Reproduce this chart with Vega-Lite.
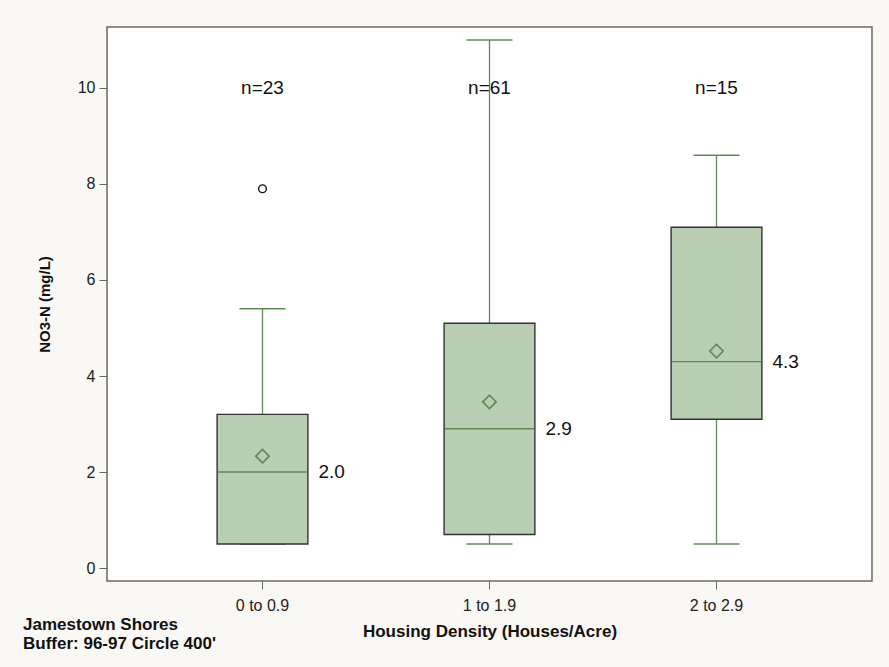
{
  "$schema": "https://vega.github.io/schema/vega-lite/v6.json",
  "width": 765,
  "height": 554,
  "autosize": "none",
  "padding": {"left": 107, "top": 27, "right": 17, "bottom": 86},
  "background": "#FAF8F4",
  "config": {
    "view": {"fill": "white", "stroke": "#6E6A62", "strokeWidth": 1.5},
    "font": "Liberation Sans"
  },
  "datasets": {
    "boxes": [
      {"grp": "0 to 0.9", "lo": 0.5, "q1": 0.5, "med": 2.0, "q3": 3.2, "hi": 5.4, "mean": 2.33, "n": "n=23", "medlab": "2.0"},
      {"grp": "1 to 1.9", "lo": 0.5, "q1": 0.7, "med": 2.9, "q3": 5.1, "hi": 11.0, "mean": 3.46, "n": "n=61", "medlab": "2.9"},
      {"grp": "2 to 2.9", "lo": 0.5, "q1": 3.1, "med": 4.3, "q3": 7.1, "hi": 8.6, "mean": 4.52, "n": "n=15", "medlab": "4.3"}
    ],
    "outliers": [
      {"grp": "0 to 0.9", "v": 7.9}
    ]
  },
  "title": {
    "text": ["Jamestown Shores", "\u00a0Buffer: 96-97 Circle 400'"],
    "orient": "bottom",
    "anchor": "start",
    "frame": "group",
    "dx": -84,
    "offset": -22,
    "fontSize": 17,
    "fontWeight": "bold",
    "color": "#111",
    "lineHeight": 19
  },
  "encoding": {
    "x": {
      "field": "grp",
      "type": "nominal",
      "sort": ["0 to 0.9", "1 to 1.9", "2 to 2.9"],
      "scale": {"paddingInner": 0.6, "paddingOuter": 0.485},
      "axis": {
        "title": "Housing Density (Houses/Acre)",
        "labelAngle": 0,
        "labelFontSize": 16,
        "labelColor": "#222",
        "labelPadding": 8,
        "tickSize": 8,
        "tickColor": "#666",
        "domain": false,
        "titleFontSize": 17,
        "titleFontWeight": "bold",
        "titleColor": "#111",
        "titlePadding": 10
      }
    }
  },
  "layer": [
    {
      "data": {"name": "boxes"},
      "mark": {"type": "rule", "color": "#5F8A58", "strokeWidth": 1.3},
      "encoding": {
        "y": {
          "field": "lo",
          "type": "quantitative",
          "scale": {"domain": [-0.27, 11.27], "nice": false, "zero": false},
          "axis": {
            "title": "NO3-N (mg/L)",
            "values": [0, 2, 4, 6, 8, 10],
            "grid": false,
            "domain": false,
            "labelFontSize": 16,
            "labelColor": "#222",
            "labelPadding": 4,
            "tickSize": 8,
            "tickColor": "#666",
            "titleFontSize": 15,
            "titleFontWeight": "bold",
            "titleColor": "#111",
            "titlePadding": 25
          }
        },
        "y2": {"field": "q1"}
      }
    },
    {
      "data": {"name": "boxes"},
      "mark": {"type": "rule", "color": "#5F8A58", "strokeWidth": 1.3},
      "encoding": {
        "y": {"field": "q3", "type": "quantitative"},
        "y2": {"field": "hi"}
      }
    },
    {
      "data": {"name": "boxes"},
      "mark": {"type": "tick", "color": "#5F8A58", "size": 46, "thickness": 1.4, "orient": "horizontal", "opacity": 1},
      "encoding": {
        "y": {"field": "hi", "type": "quantitative"}
      }
    },
    {
      "data": {"name": "boxes"},
      "mark": {"type": "tick", "color": "#5F8A58", "size": 46, "thickness": 1.4, "orient": "horizontal", "opacity": 1},
      "encoding": {
        "y": {"field": "lo", "type": "quantitative"}
      }
    },
    {
      "data": {"name": "boxes"},
      "mark": {"type": "bar", "fill": "#B9CEB3", "stroke": "#333333", "strokeWidth": 1.4},
      "encoding": {
        "y": {"field": "q1", "type": "quantitative"},
        "y2": {"field": "q3"}
      }
    },
    {
      "data": {"name": "boxes"},
      "mark": {"type": "tick", "color": "#5F8A58", "size": 89, "thickness": 1.4, "orient": "horizontal", "opacity": 1},
      "encoding": {
        "y": {"field": "med", "type": "quantitative"}
      }
    },
    {
      "data": {"name": "boxes"},
      "mark": {"type": "point", "shape": "diamond", "size": 180, "filled": false, "stroke": "#5F8A58", "strokeWidth": 1.6, "opacity": 1},
      "encoding": {
        "y": {"field": "mean", "type": "quantitative"}
      }
    },
    {
      "data": {"name": "outliers"},
      "mark": {"type": "point", "shape": "circle", "size": 60, "filled": false, "stroke": "#111", "strokeWidth": 1.4, "opacity": 1},
      "encoding": {
        "y": {"field": "v", "type": "quantitative"}
      }
    },
    {
      "data": {"name": "boxes"},
      "mark": {"type": "text", "fontSize": 19, "color": "#111", "align": "center", "baseline": "middle"},
      "encoding": {
        "y": {"datum": 10},
        "text": {"field": "n"}
      }
    },
    {
      "data": {"name": "boxes"},
      "mark": {"type": "text", "fontSize": 19, "color": "#111", "align": "left", "baseline": "middle", "dx": 56},
      "encoding": {
        "y": {"field": "med", "type": "quantitative"},
        "text": {"field": "medlab"}
      }
    }
  ]
}
